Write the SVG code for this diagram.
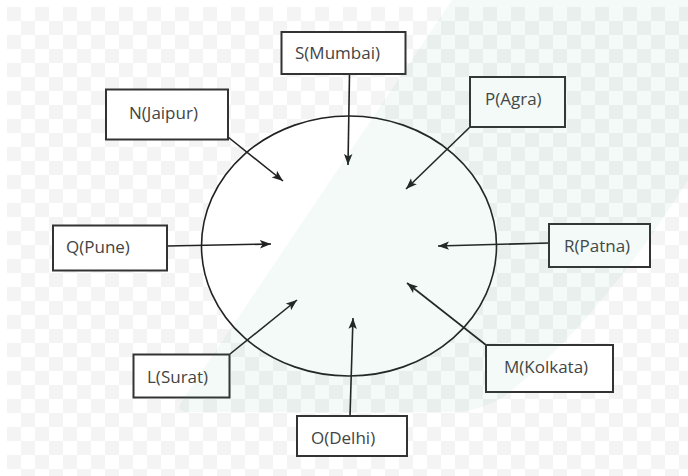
<svg xmlns="http://www.w3.org/2000/svg" width="688" height="476" viewBox="0 0 688 476">
  <style>
    .box { fill: #ffffff; stroke: #333333; stroke-width: 2; }
    .lbl { font-family: "Open Sans", "Liberation Sans", sans-serif; font-size: 17px; fill: #444444; }
    .conn { stroke: #222222; stroke-width: 1.6; fill: none; marker-end: url(#arrow); }
  </style>
  <defs>
    <pattern id="chk" x="7" y="7" width="28" height="28" patternUnits="userSpaceOnUse">
      <rect width="14" height="14" fill="#f4f4f4"/>
      <rect x="14" y="14" width="14" height="14" fill="#f4f4f4"/>
    </pattern>
    <marker id="arrow" markerUnits="userSpaceOnUse" markerWidth="12" markerHeight="10" refX="11" refY="5" orient="auto">
      <path d="M0,0.8 L11,5 L0,9.2 L2.5,5 Z" fill="#222222"/>
    </marker>
  </defs>

  <g id="background">
    <rect width="688" height="476" fill="#ffffff"/>
    <rect x="7" y="7" width="681" height="469" fill="url(#chk)"/>
  </g>

  <g id="hub">
    <ellipse cx="349" cy="246" rx="147.5" ry="130" fill="#ffffff" stroke="#222222" stroke-width="1.6"/>
  </g>

  <g id="connectors">
    <line class="conn" x1="349.5" y1="74" x2="348" y2="165"/>
    <line class="conn" x1="228" y1="137" x2="283" y2="181"/>
    <line class="conn" x1="470" y1="127" x2="406" y2="189"/>
    <line class="conn" x1="167" y1="246" x2="271" y2="244"/>
    <line class="conn" x1="549" y1="243" x2="438" y2="246"/>
    <line class="conn" x1="230" y1="354" x2="297" y2="300"/>
    <line class="conn" x1="486" y1="345" x2="407" y2="283"/>
    <line class="conn" x1="350" y1="416" x2="353" y2="318"/>
  </g>

  <g id="S">
    <rect class="box" x="281.5" y="32" width="124" height="42"/>
    <text class="lbl" x="295" y="59">S(Mumbai)</text>
  </g>
  <g id="N">
    <rect class="box" x="106" y="89.5" width="122" height="50"/>
    <text class="lbl" x="129" y="119">N(Jaipur)</text>
  </g>
  <g id="P">
    <rect class="box" x="470" y="77" width="95" height="50"/>
    <text class="lbl" x="485" y="105">P(Agra)</text>
  </g>
  <g id="Q">
    <rect class="box" x="53" y="225.5" width="114" height="45"/>
    <text class="lbl" x="66" y="253">Q(Pune)</text>
  </g>
  <g id="R">
    <rect class="box" x="549" y="224" width="101" height="43"/>
    <text class="lbl" x="564" y="252">R(Patna)</text>
  </g>
  <g id="L">
    <rect class="box" x="133.5" y="354.5" width="96" height="43"/>
    <text class="lbl" x="147" y="383">L(Surat)</text>
  </g>
  <g id="M">
    <rect class="box" x="486" y="345" width="127" height="47"/>
    <text class="lbl" x="504" y="373">M(Kolkata)</text>
  </g>
  <g id="O">
    <rect class="box" x="297" y="416" width="110" height="40"/>
    <text class="lbl" x="311" y="444">O(Delhi)</text>
  </g>

  <g id="watermark">
    <path d="M452,0 L688,0 L688,180 Q600,320 505,396 Q480,412 450,412 L190,412 Q176,412 180,404 Z" fill="#2e9e6a" fill-opacity="0.055"/>
  </g>
</svg>
